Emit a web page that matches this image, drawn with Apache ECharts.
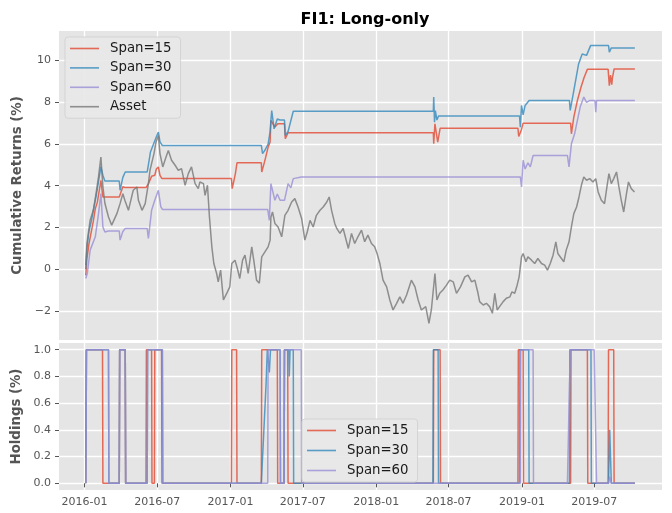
<!DOCTYPE html>
<html><head><meta charset="utf-8">
<script src="https://cdn.jsdelivr.net/npm/echarts@6/dist/echarts.min.js"></script>
<style>html,body{margin:0;padding:0;background:#fff}#c{width:672px;height:513px}</style>
</head><body><div id="c"></div>
<script>
const titleText = 'FI1: Long-only';
const seriesNames = ['Span=15', 'Span=30', 'Span=60', 'Asset'];
const dateTicks = ['2016-01-01','2016-07-01','2017-01-01','2017-07-01','2018-01-01','2018-07-01','2019-01-01','2019-07-01'];
const dateTickLabels = ['2016-01','2016-07','2017-01','2017-07','2018-01','2018-07','2019-01','2019-07'];
const retTicks = [-2, 0, 2, 4, 6, 8, 10];
const retTickLabels = ['\u22122','0','2','4','6','8','10'];
const holdTicks = [0, 0.2, 0.4, 0.6, 0.8, 1.0];
const holdTickLabels = ['0.0','0.2','0.4','0.6','0.8','1.0'];

const asset = [
['2016-01-04',0.19],['2016-01-07',1.23],['2016-01-15',2.34],['2016-01-23',2.82],['2016-01-30',3.64],['2016-02-05',4.42],['2016-02-11',5.37],['2016-02-16',3.94],['2016-02-21',3.16],['2016-03-01',2.50],['2016-03-09',2.11],['2016-03-13',2.02],['2016-03-22',2.66],['2016-03-30',3.14],['2016-04-06',3.62],['2016-04-11',3.30],['2016-04-20',2.82],['2016-04-24',3.14],['2016-05-02',3.78],['2016-05-11',3.94],['2016-05-15',3.30],['2016-05-24',2.82],['2016-06-01',3.14],['2016-06-09',4.10],['2016-06-13',4.74],['2016-06-17',5.06],['2016-06-23',5.54],['2016-06-28',6.09],['2016-07-04',6.41],['2016-07-08',5.54],['2016-07-15',4.90],['2016-07-23',5.37],['2016-07-29',5.69],['2016-08-06',5.22],['2016-08-15',4.98],['2016-08-23',4.74],['2016-08-31',4.82],['2016-09-09',4.02],['2016-09-17',4.58],['2016-09-25',4.90],['2016-10-04',4.10],['2016-10-12',3.86],['2016-10-16',4.18],['2016-10-25',4.10],['2016-10-29',3.54],['2016-11-04',4.02],['2016-11-09',2.50],['2016-11-15',1.07],['2016-11-20',0.27],['2016-11-27',-0.21],['2016-12-01',-0.61],['2016-12-07',-0.05],['2016-12-14',-1.48],['2016-12-18',-1.56],['2016-12-24',-1.09],['2016-12-30',-0.85],
['2017-01-04',0.27],['2017-01-12',0.43],['2017-01-18',0.03],['2017-01-24',-0.45],['2017-01-31',0.43],['2017-02-06',0.67],['2017-02-14',-0.21],['2017-02-23',1.07],['2017-02-28',0.43],['2017-03-07',-0.53],['2017-03-14',-0.68],['2017-03-20',0.59],['2017-03-28',0.83],['2017-04-05',1.07],['2017-04-10',1.39],['2017-04-12',2.50],['2017-04-16',2.74],['2017-04-22',2.19],['2017-04-30',2.02],['2017-05-09',1.55],['2017-05-17',2.58],['2017-05-25',2.82],['2017-06-03',3.22],['2017-06-11',3.38],['2017-06-19',2.98],['2017-06-28',2.43],['2017-07-06',1.39],['2017-07-12',1.78],['2017-07-19',2.34],['2017-07-27',2.02],['2017-08-04',2.58],['2017-08-13',2.82],['2017-08-21',2.98],['2017-08-30',3.22],['2017-09-05',3.46],['2017-09-11',2.82],['2017-09-19',2.19],['2017-09-24',1.95],['2017-10-02',1.71],['2017-10-10',1.95],['2017-10-23',0.99],['2017-10-31',1.71],['2017-11-08',1.23],['2017-11-16',1.55],['2017-11-25',1.87],['2017-12-03',1.31],['2017-12-11',1.63],['2017-12-20',1.23],['2017-12-28',1.07],
['2018-01-03',0.75],['2018-01-10',0.27],['2018-01-18',-0.53],['2018-01-27',-0.85],['2018-02-04',-1.48],['2018-02-12',-1.96],['2018-02-21',-1.64],['2018-03-01',-1.33],['2018-03-09',-1.64],['2018-03-18',-1.24],['2018-03-30',-0.53],['2018-04-08',-0.85],['2018-04-16',-1.48],['2018-04-24',-1.96],['2018-05-05',-1.80],['2018-05-13',-2.60],['2018-05-19',-1.96],['2018-05-28',-0.21],['2018-06-02',-1.48],['2018-06-09',-1.16],['2018-06-17',-1.00],['2018-06-26',-0.77],['2018-07-04',-0.53],['2018-07-13',-0.61],['2018-07-21',-1.16],['2018-07-31',-0.85],['2018-08-11',-0.37],['2018-08-19',-0.29],['2018-08-28',-0.61],['2018-09-05',-0.53],['2018-09-13',-1.16],['2018-09-17',-1.56],['2018-09-22',-1.64],['2018-09-26',-1.72],['2018-10-04',-1.64],['2018-10-12',-1.80],['2018-10-19',-2.12],['2018-10-25',-1.16],['2018-10-31',-1.96],['2018-11-06',-1.80],['2018-11-15',-1.56],['2018-11-23',-1.40],['2018-12-02',-1.33],['2018-12-07',-1.09],['2018-12-14',-1.16],['2018-12-20',-0.77],['2018-12-25',-0.37],['2018-12-31',0.59],
['2019-01-04',0.75],['2019-01-11',0.35],['2019-01-16',0.59],['2019-01-25',0.43],['2019-02-02',0.27],['2019-02-10',0.51],['2019-02-19',0.27],['2019-02-27',0.19],['2019-03-06',-0.05],['2019-03-13',0.27],['2019-03-20',0.67],['2019-03-27',1.31],['2019-04-01',0.75],['2019-04-10',0.51],['2019-04-16',0.35],['2019-04-22',0.91],['2019-04-29',1.31],['2019-05-05',2.02],['2019-05-11',2.66],['2019-05-18',2.98],['2019-05-24',3.46],['2019-05-30',4.02],['2019-06-05',4.42],['2019-06-12',4.26],['2019-06-20',4.34],['2019-06-28',4.18],['2019-07-05',4.34],['2019-07-11',3.70],['2019-07-19',3.30],['2019-07-27',3.14],['2019-08-02',3.94],['2019-08-07',4.58],['2019-08-13',4.10],['2019-08-19',4.34],['2019-08-26',4.66],['2019-09-01',3.94],['2019-09-07',3.30],['2019-09-13',2.74],['2019-09-20',3.62],['2019-09-25',4.18],['2019-10-02',3.86],['2019-10-10',3.70]
];

const span15Ret = [
['2016-01-04',-0.30],['2016-01-07',0.50],['2016-01-12',1.20],['2016-01-18',1.80],['2016-01-23',2.30],['2016-01-28',2.90],['2016-02-02',3.20],['2016-02-08',3.90],['2016-02-11',4.25],['2016-02-15',3.60],['2016-02-16',3.46],['2016-03-28',3.46],['2016-04-06',3.95],['2016-04-12',3.91],['2016-06-03',3.91],['2016-06-09',4.10],['2016-06-17',4.45],['2016-06-25',4.50],['2016-06-29',4.80],['2016-07-04',4.90],['2016-07-08',4.50],['2016-07-13',4.34],
['2017-01-03',4.34],['2017-01-05',3.86],['2017-01-10',4.30],['2017-01-13',4.58],['2017-01-17',5.10],['2017-03-19',5.10],['2017-03-20',4.66],['2017-03-25',5.00],['2017-03-30',5.37],['2017-04-05',5.85],['2017-04-10',6.10],['2017-04-12',7.13],['2017-04-16',7.20],['2017-04-22',6.81],['2017-04-29',6.97],['2017-05-16',6.97],['2017-05-18',6.25],['2017-05-25',6.54],
['2018-05-24',6.54],['2018-05-25',6.01],['2018-05-28',6.97],['2018-06-04',6.09],['2018-06-10',6.75],['2018-12-22',6.75],['2018-12-24',6.36],['2018-12-31',6.70],
['2019-01-04',7.00],['2019-05-03',7.00],['2019-05-05',6.49],['2019-05-11',7.29],['2019-05-20',8.09],['2019-05-29',8.72],['2019-06-06',9.20],['2019-06-14',9.58],['2019-08-05',9.58],['2019-08-08',8.80],['2019-08-11',9.30],['2019-08-14',8.85],['2019-08-16',9.20],['2019-08-20',9.60],['2019-10-11',9.60]
];

const span30Ret = [
['2016-01-04',0.00],['2016-01-07',1.00],['2016-01-12',1.80],['2016-01-18',2.30],['2016-01-23',2.80],['2016-01-30',3.50],['2016-02-05',4.20],['2016-02-11',4.90],['2016-02-16',4.50],['2016-02-21',4.22],['2016-03-28',4.22],['2016-03-30',3.78],['2016-04-06',4.40],['2016-04-12',4.66],['2016-06-06',4.66],['2016-06-09',5.00],['2016-06-14',5.60],['2016-06-20',5.90],['2016-06-28',6.30],['2016-07-04',6.57],['2016-07-08',6.10],['2016-07-14',5.93],
['2017-03-19',5.93],['2017-03-22',5.54],['2017-03-28',5.70],['2017-04-05',6.00],['2017-04-10',6.60],['2017-04-12',7.13],['2017-04-14',7.60],['2017-04-20',6.73],['2017-04-28',7.20],['2017-05-05',7.15],['2017-05-16',7.15],['2017-05-18',6.41],['2017-05-25',6.60],['2017-05-30',6.97],['2017-06-07',7.57],
['2018-05-24',7.57],['2018-05-25',8.25],['2018-05-27',7.05],['2018-05-29',7.60],['2018-06-02',7.15],['2018-06-06',7.34],['2018-12-26',7.34],['2018-12-28',6.81],['2018-12-31',7.85],
['2019-01-04',7.40],['2019-01-09',7.85],['2019-01-19',8.09],['2019-04-30',8.09],['2019-05-02',7.61],['2019-05-11',8.56],['2019-05-17',9.20],['2019-05-23',9.84],['2019-06-01',10.32],['2019-06-12',10.25],['2019-06-22',10.72],['2019-08-06',10.72],['2019-08-08',10.40],['2019-08-13',10.61],['2019-10-11',10.61]
];

const span60Ret = [
['2016-01-04',-0.45],['2016-01-08',-0.20],['2016-01-15',0.91],['2016-01-28',1.55],['2016-02-05',2.66],['2016-02-11',3.62],['2016-02-16',2.02],['2016-02-21',1.78],['2016-03-01',1.83],['2016-03-28',1.83],['2016-03-30',1.39],['2016-04-06',1.80],['2016-04-12',1.95],['2016-06-06',1.95],['2016-06-09',1.47],['2016-06-17',2.82],['2016-06-25',3.30],['2016-07-04',3.78],['2016-07-10',3.00],['2016-07-14',2.86],
['2017-04-04',2.86],['2017-04-08',2.34],['2017-04-12',4.10],['2017-04-22',3.30],['2017-04-28',3.60],['2017-05-05',3.30],['2017-05-16',3.30],['2017-05-25',4.10],['2017-06-01',3.90],['2017-06-07',4.34],['2017-06-27',4.42],
['2018-12-28',4.42],['2018-12-31',3.94],['2019-01-04',5.22],['2019-01-09',4.80],['2019-01-16',5.10],['2019-01-22',4.90],['2019-01-29',5.45],['2019-04-25',5.45],['2019-04-29',4.90],['2019-05-05',6.01],['2019-05-13',6.49],['2019-05-20',7.13],['2019-05-27',7.77],['2019-06-05',8.25],['2019-06-12',8.00],['2019-06-20',8.09],['2019-07-03',8.09],['2019-07-05',7.53],['2019-07-07',8.09],['2019-10-11',8.09]
];

const span15Hold = [
['2016-01-04',0],['2016-01-05',1],['2016-02-15',1],['2016-02-16',0],['2016-03-28',0],['2016-03-29',1],['2016-04-12',1],['2016-04-13',0],['2016-06-03',0],['2016-06-04',1],['2016-06-17',1],['2016-06-18',0],['2016-06-24',0],['2016-06-25',1],['2016-07-12',1],['2016-07-13',0],['2017-01-03',0],['2017-01-04',1],['2017-01-16',1],['2017-01-17',0],['2017-03-19',0],['2017-03-20',1],['2017-04-28',1],['2017-04-29',0],['2017-05-15',0],['2017-05-16',1],['2017-05-24',1],['2017-05-25',0],['2018-05-24',0],['2018-05-25',1],['2018-06-10',1],['2018-06-11',0],['2018-12-22',0],['2018-12-23',1],['2019-01-04',1],['2019-01-05',0],['2019-05-03',0],['2019-05-04',1],['2019-06-14',1],['2019-06-15',0],['2019-08-05',0],['2019-08-06',1],['2019-08-19',1],['2019-08-20',0],['2019-10-11',0]
];
const span30Hold = [
['2016-01-04',0],['2016-01-06',1],['2016-03-01',1],['2016-03-02',0],['2016-03-28',0],['2016-03-29',1],['2016-04-12',1],['2016-04-13',0],['2016-06-06',0],['2016-06-07',1],['2016-07-14',1],['2016-07-15',0],['2017-03-19',0],['2017-03-31',0.75],['2017-04-03',1],['2017-04-08',0.83],['2017-04-11',1],['2017-05-05',1],['2017-05-06',0],['2017-05-15',0],['2017-05-16',1],['2017-05-27',1],['2017-05-28',0.8],['2017-05-30',1],['2017-06-07',1],['2017-06-08',0],['2018-05-23',0],['2018-05-24',1],['2018-06-05',1],['2018-06-06',0],['2018-12-26',0],['2018-12-27',1],['2019-01-18',1],['2019-01-19',0],['2019-04-30',0],['2019-05-01',1],['2019-06-23',1],['2019-06-24',0],['2019-08-06',0],['2019-08-09',0.4],['2019-08-13',0],['2019-10-11',0]
];
const span60Hold = [
['2016-01-04',0],['2016-01-06',1],['2016-03-01',1],['2016-03-02',0],['2016-03-28',0],['2016-03-29',1],['2016-04-12',1],['2016-04-13',0],['2016-06-06',0],['2016-06-07',1],['2016-07-14',1],['2016-07-15',0],['2017-04-04',0],['2017-04-05',1],['2017-05-05',1],['2017-05-06',0],['2017-05-15',0],['2017-05-16',1],['2017-06-27',1],['2017-06-28',0],['2018-12-28',0],['2018-12-29',1],['2019-01-29',1],['2019-01-30',0],['2019-04-25',0],['2019-05-02',1],['2019-07-01',1],['2019-07-07',0],['2019-08-06',0],['2019-08-09',0.05],['2019-08-13',0],['2019-10-11',0]
];

const colors = ['#E24A33', '#348ABD', '#988ED5', '#777777'];
const FONT = 'DejaVu Sans';
const T = s => echarts.time.parse(s).getTime();
const xMin = T('2015-10-29');
const xMax = T('2019-12-18');
const dateTickVals = dateTicks.map(T);
const toXY = arr => arr.map(p => [T(p[0]), p[1]]);

function xAxisCfg(idx, showLabels) {
  return {
    type: 'value', gridIndex: idx, min: xMin, max: xMax, scale: true,
    axisLine: { show: false },
    axisTick: { show: showLabels, customValues: dateTickVals, length: 4, lineStyle: { color: '#555', width: 1 } },
    axisLabel: {
      show: showLabels, customValues: dateTickVals, margin: 7,
      color: '#555', fontFamily: FONT, fontSize: 11,
      formatter: function (v) {
        const i = dateTickVals.findIndex(t => Math.abs(t - v) < 1000);
        return i >= 0 ? dateTickLabels[i] : '';
      }
    },
    splitLine: { show: true, lineStyle: { color: '#ffffff', width: 1.3 } }
  };
}
function yAxisCfg(idx, name, ticks, labels, min, max) {
  return {
    type: 'value', gridIndex: idx, min: min, max: max,
    name: name, nameLocation: 'middle', nameGap: 27, nameRotate: 90,
    nameTextStyle: { color: '#555', fontFamily: FONT, fontSize: 13.3, fontWeight: 'bold' },
    axisLine: { show: false },
    axisTick: { show: true, customValues: ticks, length: 4, lineStyle: { color: '#555', width: 1 } },
    axisLabel: {
      customValues: ticks, margin: 8, color: '#555', fontFamily: FONT, fontSize: 11,
      formatter: function (v) {
        const i = ticks.findIndex(t => Math.abs(t - v) < 1e-9);
        return i >= 0 ? labels[i] : '';
      }
    },
    splitLine: { show: true, lineStyle: { color: '#ffffff', width: 1.3 } }
  };
}
function lineSeries(name, data, color, xi, yi) {
  return {
    name: name, type: 'line', xAxisIndex: xi, yAxisIndex: yi, data: toXY(data),
    showSymbol: false, symbol: 'none', animation: false,
    lineStyle: { color: color, width: 1.5, opacity: 0.8 },
    itemStyle: { color: color, opacity: 0.8 },
    emphasis: { disabled: true }
  };
}
function legendCfg(names, left, top, gap) {
  return {
    data: names.map(n => ({ name: n, icon: 'rect' })),
    orient: 'vertical', left: left, top: top,
    itemWidth: 29, itemHeight: 1.6, itemGap: gap,
    padding: [4, 9, 4, 5],
    backgroundColor: 'rgba(232,232,232,0.9)', borderColor: 'rgba(210,210,210,0.9)', borderWidth: 1, borderRadius: 3,
    textStyle: { fontFamily: FONT, fontSize: 13.3, lineHeight: 15, color: '#1a1a1a', padding: [0, 0, 0, 6] }
  };
}

const chart = echarts.init(document.getElementById('c'), null, { renderer: 'canvas' });
chart.setOption({
  backgroundColor: '#ffffff',
  animation: false,
  title: {
    text: titleText, left: 360, top: 7, textAlign: 'center',
    textStyle: { fontFamily: FONT, fontSize: 16, fontWeight: 'bold', color: '#000' }
  },
  grid: [
    { left: 59, top: 31, width: 603, height: 309, show: true, backgroundColor: '#E5E5E5', borderWidth: 0 },
    { left: 59, top: 343, width: 603, height: 147, show: true, backgroundColor: '#E5E5E5', borderWidth: 0 }
  ],
  xAxis: [xAxisCfg(0, false), xAxisCfg(1, true)],
  yAxis: [
    yAxisCfg(0, 'Cumulative Returns (%)', retTicks, retTickLabels, -3.4, 11.42),
    yAxisCfg(1, 'Holdings (%)', holdTicks, holdTickLabels, -0.05, 1.05)
  ],
  legend: [
    legendCfg(seriesNames, 65, 37, 4.4),
    legendCfg(seriesNames.slice(0, 3), 302, 419, 5.0)
  ],
  series: [
    lineSeries('Span=15', span15Ret, colors[0], 0, 0),
    lineSeries('Span=30', span30Ret, colors[1], 0, 0),
    lineSeries('Span=60', span60Ret, colors[2], 0, 0),
    lineSeries('Asset', asset, colors[3], 0, 0),
    lineSeries('Span=15', span15Hold, colors[0], 1, 1),
    lineSeries('Span=30', span30Hold, colors[1], 1, 1),
    lineSeries('Span=60', span60Hold, colors[2], 1, 1)
  ]
});
</script></body></html>
